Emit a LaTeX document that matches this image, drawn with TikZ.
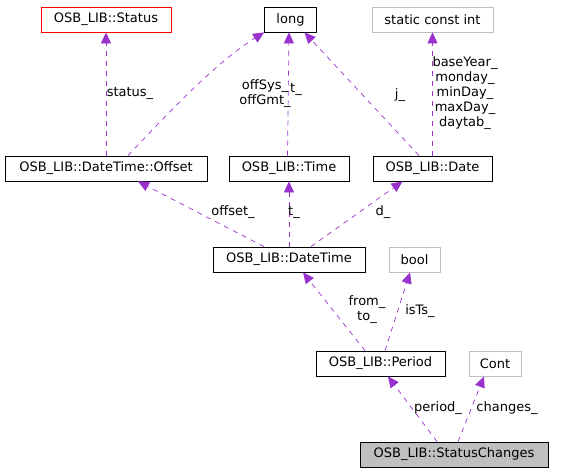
\documentclass[tikz,border=0pt]{standalone}
\usepackage{fontspec}
\setmainfont{DejaVu Sans}
\usetikzlibrary{arrows.meta}

\definecolor{edgecol}{HTML}{9A32CD}
\definecolor{extcol}{HTML}{BFBFBF}

\begin{document}
\begin{tikzpicture}[x=1pt, y=-1pt,
    every node/.style={font=\fontsize{13}{15}\selectfont, inner sep=0pt},
    cls/.style={draw=black, rectangle, minimum height=25pt, line width=0.8pt},
    ext/.style={cls, draw=extcol},
    lbl/.style={align=center},
    use/.style={draw=edgecol, line width=0.7pt, dash pattern=on 5pt off 5pt,
      -{Triangle[length=11pt, width=10pt, fill=edgecol]}}]
    \useasboundingbox (0,0) rectangle (564,472);

    % top row
    \node[cls, draw=red, minimum width=130pt] (sts) at (106,19.5) {OSB\_LIB::Status};
    \node[cls, minimum width=52pt] (lng) at (290.5,19.5) {long};
    \node[ext, minimum width=121pt] (sci) at (432.5,19.5) {static const int};

    % middle rows
    \node[cls, minimum width=202pt] (off) at (106,168.5) {OSB\_LIB::DateTime::Offset};
    \node[cls, minimum width=120pt] (tim) at (289,168.5) {OSB\_LIB::Time};
    \node[cls, minimum width=119pt] (dat) at (432.5,168.5) {OSB\_LIB::Date};
    \node[cls, minimum width=152pt] (dtm) at (289,259.5) {OSB\_LIB::DateTime};
    \node[ext, minimum width=51pt] (bol) at (414.5,259.5) {bool};
    \node[cls, minimum width=129pt] (prd) at (380.5,363.5) {OSB\_LIB::Period};
    \node[ext, minimum width=52pt] (cnt) at (495,363.5) {Cont};
    \node[cls, fill=extcol, minimum width=188pt] (stc) at (454,454.5) {OSB\_LIB::StatusChanges};

    % edges
    \draw[use] (off.north) -- (sts.south);
    \draw[use] ([xshift=22pt]off.north) .. controls (180,100) and (220,60) .. (lng.south west);
    \draw[use] ([xshift=-1.5pt]tim.north) -- ([xshift=-1.5pt]lng.south);
    \draw[use] ([xshift=-13.5pt]dat.north) -- ([xshift=14pt]lng.south);
    \draw[use] (dat.north) -- (sci.south);
    \draw[use] ([xshift=-25pt]dtm.north) -- ([xshift=32pt]off.south);
    \draw[use] (dtm.north) -- (tim.south);
    \draw[use] ([xshift=22pt]dtm.north) -- ([xshift=-30pt]dat.south);
    \draw[use] ([xshift=-15.5pt]prd.north) -- ([xshift=14pt]dtm.south);
    \draw[use] ([xshift=4.5pt]prd.north) -- ([xshift=-4.5pt]bol.south);
    \draw[use] ([xshift=-17pt]stc.north) -- ([xshift=7.5pt]prd.south);
    \draw[use] ([xshift=4pt]stc.north) -- ([xshift=-11pt]cnt.south);

    % edge labels
    \node[lbl] (l1) at (130,93) {status\_};
    \node[lbl] (l2) at (265,94) {offSys\_\\offGmt\_};
    \node[lbl] (l3) at (296,89) {t\_};
    \node[lbl] (l4) at (400,95) {j\_};
    \node[lbl] (l5) at (465,93) {baseYear\_\\monday\_\\minDay\_\\maxDay\_\\daytab\_};
    \node[lbl] (l6) at (233,212) {offset\_};
    \node[lbl] (l7) at (294,212) {t\_};
    \node[lbl] (l8) at (383,212) {d\_};
    \node[lbl] (l9) at (367,310) {from\_\\to\_};
    \node[lbl] (l10) at (420,311) {isTs\_};
    \node[lbl] (l11) at (438,408) {period\_};
    \node[lbl] (l12) at (507,408) {changes\_};
\end{tikzpicture}
\end{document}
